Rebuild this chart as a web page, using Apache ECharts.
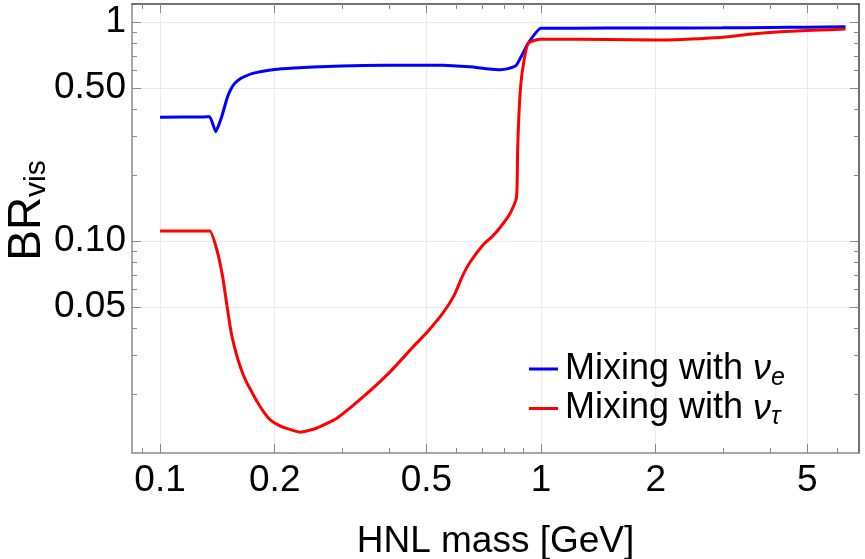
<!DOCTYPE html>
<html>
<head>
<meta charset="utf-8">
<title>BR vis vs HNL mass</title>
<script src="https://cdn.jsdelivr.net/npm/echarts@6/dist/echarts.min.js"></script>
<style>
  html, body { margin: 0; padding: 0; background: #fff; }
  #chart { width: 865px; height: 559px; }
</style>
</head>
<body>
<div id="chart"></div>
<script>
// HNL mass [GeV] and visible branching ratio
const massE = [0.1, 0.13, 0.135, 0.140, 0.145, 0.150, 0.153, 0.157, 0.162, 0.167, 0.175, 0.186, 0.2, 0.225, 0.252, 0.3, 0.341, 0.45, 0.553, 0.65, 0.72, 0.78, 0.82, 0.862, 0.925, 1.0, 1.5, 2.0, 3.0, 4.0, 5.0, 6.3];
const brE = [0.368, 0.369, 0.370, 0.316, 0.368, 0.45, 0.49, 0.525, 0.55, 0.565, 0.583, 0.597, 0.608, 0.617, 0.624, 0.630, 0.633, 0.636, 0.636, 0.625, 0.613, 0.606, 0.613, 0.636, 0.80, 0.938, 0.939, 0.940, 0.942, 0.945, 0.948, 0.952];

const massTau = [0.1, 0.13, 0.135, 0.141, 0.146, 0.150, 0.154, 0.159, 0.163, 0.168, 0.174, 0.180, 0.187, 0.195, 0.205, 0.216, 0.233, 0.258, 0.291, 0.341, 0.401, 0.461, 0.5, 0.553, 0.59, 0.624, 0.651, 0.704, 0.745, 0.78, 0.83, 0.862, 0.868, 0.875, 0.885, 0.90, 0.925, 1.0, 1.5, 2.0, 2.95, 3.47, 4.24, 5.17, 6.3];
const brTau = [0.111, 0.111, 0.111, 0.091, 0.0686, 0.050, 0.0375, 0.0300, 0.0262, 0.0230, 0.0205, 0.0184, 0.0166, 0.0152, 0.0144, 0.0139, 0.0134, 0.0140, 0.0155, 0.0194, 0.0252, 0.0328, 0.038, 0.047, 0.056, 0.070, 0.080, 0.096, 0.105, 0.115, 0.134, 0.158, 0.26, 0.38, 0.52, 0.65, 0.80, 0.836, 0.832, 0.828, 0.851, 0.878, 0.903, 0.919, 0.929];

// tick values / labels
const xMajor = [0.1, 0.2, 0.5, 1, 2, 5];
const xMajorLabels = ['0.1', '0.2', '0.5', '1', '2', '5'];
const xMinor = [0.09, 0.3, 0.4, 0.6, 0.7, 0.8, 0.9, 3, 4, 6];
const yMajor = [0.05, 0.1, 0.5, 1];
const yMajorLabels = ['0.05', '0.10', '0.50', '1'];
const yMinor = [0.02, 0.03, 0.04, 0.06, 0.07, 0.08, 0.09, 0.2, 0.3, 0.4, 0.6, 0.7, 0.8, 0.9];

const xRange = [0.0844, 6.833];
const yRange = [0.01076, 1.21];

const FONT = "'Liberation Sans', Arial, sans-serif";
const frameLight = '#8a8a8a';
const frameDark = '#444';

function xAxisDef(position, ticks, len, opts) {
  return Object.assign({
    type: 'log',
    logBase: 10,
    min: xRange[0],
    max: xRange[1],
    position: position,
    axisLine: { show: false },
    axisTick: { show: true, inside: true, length: len, customValues: ticks,
      lineStyle: { color: frameLight, width: 1 } },
    axisLabel: { show: false },
    splitLine: { show: false },
    minorTick: { show: false }
  }, opts || {});
}

function yAxisDef(position, ticks, len, opts) {
  return Object.assign({
    type: 'log',
    logBase: 10,
    min: yRange[0],
    max: yRange[1],
    position: position,
    axisLine: { show: false },
    axisTick: { show: true, inside: true, length: len, customValues: ticks,
      lineStyle: { color: frameLight, width: 1 } },
    axisLabel: { show: false },
    splitLine: { show: false },
    minorTick: { show: false }
  }, opts || {});
}

function labelFor(values, labels) {
  return function (v) {
    const i = values.findIndex(function (m) { return Math.abs(m - v) < 1e-9; });
    return i >= 0 ? labels[i] : '';
  };
}

const chart = echarts.init(document.getElementById('chart'));

const option = {
  animation: false,
  backgroundColor: '#fff',
  textStyle: { fontFamily: FONT },
  grid: { left: 132, right: 6, top: 4, bottom: 106, containLabel: false, outerBoundsMode: 'none' },
  legend: {
    orient: 'vertical',
    left: 524,
    top: 346,
    icon: 'rect',
    itemWidth: 29,
    itemHeight: 3,
    itemGap: 0,
    data: ['e', 'tau'],
    formatter: function (name) {
      return name === 'e'
        ? '{t|Mixing with }{n|ν}{s|e}'
        : '{t|Mixing with }{n|ν}{s|τ}';
    },
    textStyle: {
      color: '#000',
      padding: [0, 0, 0, 2],
      rich: {
        t: { fontSize: 36, fontFamily: FONT, color: '#000', lineHeight: 43 },
        n: { fontSize: 36, fontFamily: FONT, fontStyle: 'italic', color: '#000', lineHeight: 43 },
        s: { fontSize: 25, fontFamily: FONT, fontStyle: 'italic', color: '#000', lineHeight: 22, verticalAlign: 'bottom' }
      }
    }
  },
  xAxis: [
    xAxisDef('bottom', xMajor, 9, {
      name: 'HNL mass [GeV]',
      nameLocation: 'middle',
      nameGap: 70,
      nameMoveOverlap: false,
      nameTextStyle: { fontSize: 37, color: '#000', fontFamily: FONT },
      axisLine: { show: true, lineStyle: { color: frameLight, width: 1.5 } },
      axisLabel: {
        show: true, customValues: xMajor, margin: 9,
        fontSize: 37, color: '#000', fontFamily: FONT,
        formatter: labelFor(xMajor, xMajorLabels)
      },
      splitLine: { show: true, lineStyle: { color: '#ebebeb', width: 1 } }
    }),
    xAxisDef('bottom', xMinor, 5),
    xAxisDef('top', xMajor, 9, {
      axisLine: { show: true, lineStyle: { color: frameDark, width: 1.5 } }
    }),
    xAxisDef('top', xMinor, 5)
  ],
  yAxis: [
    yAxisDef('left', yMajor, 9, {
      name: '{a|BR}{b|vis}',
      nameLocation: 'middle',
      nameRotate: 90,
      nameGap: 80,
      nameMoveOverlap: false,
      nameTextStyle: {
        color: '#000',
        padding: [0, 0, 0, 36],
        rich: {
          a: { fontSize: 46, fontFamily: FONT, color: '#000', lineHeight: 50 },
          b: { fontSize: 30, fontFamily: FONT, color: '#000', lineHeight: 26, verticalAlign: 'bottom' }
        }
      },
      axisLine: { show: true, lineStyle: { color: frameLight, width: 1.5 } },
      axisLabel: {
        show: true, customValues: yMajor, margin: 6,
        fontSize: 37, color: '#000', fontFamily: FONT,
        formatter: labelFor(yMajor, yMajorLabels)
      },
      splitLine: { show: true, lineStyle: { color: '#ebebeb', width: 1 } }
    }),
    yAxisDef('left', yMinor, 5),
    yAxisDef('right', yMajor, 9, {
      axisLine: { show: true, lineStyle: { color: frameDark, width: 1.5 } }
    }),
    yAxisDef('right', yMinor, 5)
  ],
  series: [
    {
      name: 'e',
      type: 'line',
      xAxisIndex: 0,
      yAxisIndex: 0,
      showSymbol: false,
      smooth: 0.15,
      color: '#0000ff',
      lineStyle: { width: 3, color: '#0000ff' },
      data: massE.map(function (m, i) { return [m, brE[i]]; }),
      z: 3
    },
    {
      name: 'tau',
      type: 'line',
      xAxisIndex: 0,
      yAxisIndex: 0,
      showSymbol: false,
      smooth: 0.2,
      color: '#ff0000',
      lineStyle: { width: 3, color: '#ff0000' },
      data: massTau.map(function (m, i) { return [m, brTau[i]]; }),
      z: 4
    }
  ]
};

chart.setOption(option);
</script>
</body>
</html>
